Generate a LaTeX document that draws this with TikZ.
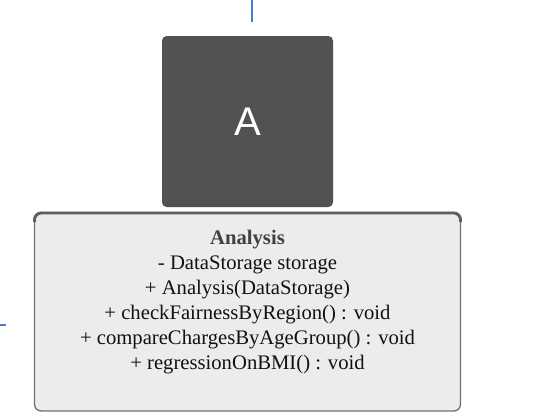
\documentclass[tikz,border=0pt]{standalone}
\usepackage{fontspec}
\setmainfont{Liberation Serif}
\newfontfamily\labelsans{Liberation Sans}
\definecolor{darkbox}{HTML}{525252}
\definecolor{lightfill}{HTML}{ECECEC}
\definecolor{boxline}{HTML}{707070}
\definecolor{txt}{HTML}{111111}
\definecolor{edgeblue}{HTML}{4E79D0}
\begin{document}
\begin{tikzpicture}[x=0.75pt,y=-0.75pt,
  darkstyle/.style={fill=darkbox,draw=none,rounded corners=3.5pt},
  classbox/.style={fill=lightfill,draw=boxline,line width=1pt,rounded corners=5pt},
  member/.style={text=txt,font=\fontsize{15.5}{17}\selectfont,anchor=center,inner sep=0pt},
  blueedge/.style={draw=edgeblue,line width=1.1pt}]
\useasboundingbox (0,0) rectangle (533,419);
% dark box A
\path[darkstyle] (162,36) rectangle (333,207);
\node[text=white,font=\labelsans\fontsize{30}{32}\selectfont,inner sep=0pt] (A) at (247.5,122) {A};
% class box
\path[classbox] (34.5,212.5) rectangle (460.5,411);
\draw[draw=boxline!85!black,line width=2.2pt,rounded corners=5pt] (34.5,222) -- (34.5,213) -- (460.5,213) -- (460.5,222);
\node[member,font=\bfseries\fontsize{15.5}{17}\selectfont,text=txt!80!white] (t1) at (247.5,239.5) {Analysis};
\node[member] (t2) at (247.5,264.5) {- DataStorage storage};
\node[member] (t3) at (247.5,289.5) {+ Analysis(DataStorage)};
\node[member] (t4) at (247.5,314.5) {+ checkFairnessByRegion() : void};
\node[member] (t5) at (247.5,339.5) {+ compareChargesByAgeGroup() : void};
\node[member] (t6) at (247.5,364.5) {+ regressionOnBMI() : void};
% edge stubs
\coordinate (top1) at (252,0);
\coordinate (top2) at (252,22);
\draw[blueedge] (top1) -- (top2);
\coordinate (left1) at (0,325);
\coordinate (left2) at (6,325);
\draw[blueedge] (left1) -- (left2);
\end{tikzpicture}
\end{document}
